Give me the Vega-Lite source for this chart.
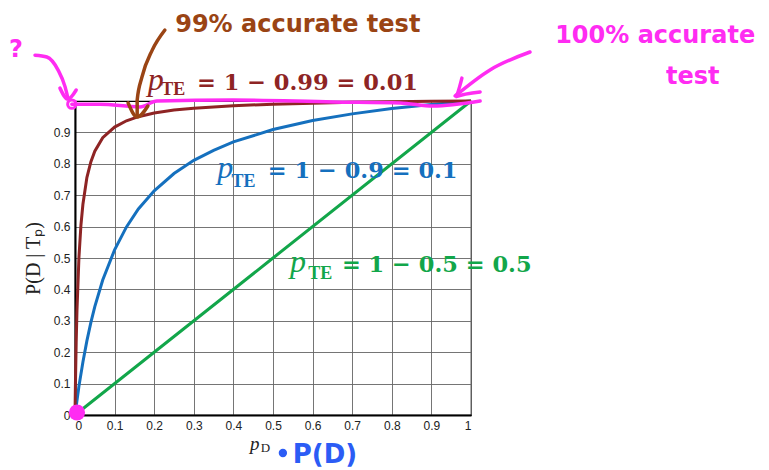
{
  "$schema": "https://vega.github.io/schema/vega-lite/v6.json",
  "autosize": "none",
  "width": 396,
  "height": 314,
  "padding": {"left": 75, "top": 101, "right": 298, "bottom": 55},
  "background": "white",
  "config": {
    "view": {"stroke": "black", "strokeWidth": 1.2},
    "axis": {
      "labelFont": "Liberation Sans",
      "labelFontSize": 12,
      "labelColor": "#222",
      "gridColor": "#666",
      "gridWidth": 1,
      "gridOpacity": 0.9,
      "domainColor": "black",
      "domainWidth": 2,
      "ticks": false,
      "labelPadding": 5
    }
  },
  "datasets": {
    "curves": [
      {"s": "green", "x": 0, "y": 0},
      {"s": "green", "x": 0.5, "y": 0.5},
      {"s": "green", "x": 1, "y": 1},
      {"s": "blue", "x": 0, "y": 0},
      {"s": "blue", "x": 0.01, "y": 0.092},
      {"s": "blue", "x": 0.02, "y": 0.169},
      {"s": "blue", "x": 0.03, "y": 0.236},
      {"s": "blue", "x": 0.04, "y": 0.294},
      {"s": "blue", "x": 0.05, "y": 0.345},
      {"s": "blue", "x": 0.07, "y": 0.43},
      {"s": "blue", "x": 0.1, "y": 0.526},
      {"s": "blue", "x": 0.13, "y": 0.599},
      {"s": "blue", "x": 0.16, "y": 0.656},
      {"s": "blue", "x": 0.2, "y": 0.714},
      {"s": "blue", "x": 0.25, "y": 0.769},
      {"s": "blue", "x": 0.3, "y": 0.811},
      {"s": "blue", "x": 0.35, "y": 0.843},
      {"s": "blue", "x": 0.4, "y": 0.87},
      {"s": "blue", "x": 0.5, "y": 0.909},
      {"s": "blue", "x": 0.6, "y": 0.938},
      {"s": "blue", "x": 0.7, "y": 0.959},
      {"s": "blue", "x": 0.8, "y": 0.976},
      {"s": "blue", "x": 0.9, "y": 0.989},
      {"s": "blue", "x": 1, "y": 1},
      {"s": "red", "x": 0, "y": 0},
      {"s": "red", "x": 0.001, "y": 0.091},
      {"s": "red", "x": 0.003, "y": 0.232},
      {"s": "red", "x": 0.005, "y": 0.334},
      {"s": "red", "x": 0.01, "y": 0.503},
      {"s": "red", "x": 0.015, "y": 0.605},
      {"s": "red", "x": 0.02, "y": 0.671},
      {"s": "red", "x": 0.03, "y": 0.756},
      {"s": "red", "x": 0.04, "y": 0.806},
      {"s": "red", "x": 0.05, "y": 0.84},
      {"s": "red", "x": 0.07, "y": 0.883},
      {"s": "red", "x": 0.1, "y": 0.917},
      {"s": "red", "x": 0.13, "y": 0.937},
      {"s": "red", "x": 0.16, "y": 0.95},
      {"s": "red", "x": 0.2, "y": 0.962},
      {"s": "red", "x": 0.25, "y": 0.971},
      {"s": "red", "x": 0.3, "y": 0.977},
      {"s": "red", "x": 0.4, "y": 0.985},
      {"s": "red", "x": 0.5, "y": 0.99},
      {"s": "red", "x": 0.6, "y": 0.993},
      {"s": "red", "x": 0.7, "y": 0.996},
      {"s": "red", "x": 0.8, "y": 0.998},
      {"s": "red", "x": 0.9, "y": 0.999},
      {"s": "red", "x": 1, "y": 1}
    ],
    "pLab": [
      {"s": "red", "x": 0.184, "y": 1.035, "t": "p"},
      {"s": "blue", "x": 0.359, "y": 0.755, "t": "p"},
      {"s": "green", "x": 0.543, "y": 0.455, "t": "p"}
    ],
    "teLab": [
      {"s": "red", "x": 0.218, "y": 1.019, "t": "TE"},
      {"s": "blue", "x": 0.395, "y": 0.726, "t": "TE"},
      {"s": "green", "x": 0.589, "y": 0.433, "t": "TE"}
    ],
    "eqLab": [
      {"s": "red", "x": 0.308, "y": 1.035, "t": "= 1 − 0.99 = 0.01"},
      {"s": "blue", "x": 0.487, "y": 0.755, "t": "= 1 − 0.9 = 0.1"},
      {"s": "green", "x": 0.674, "y": 0.455, "t": "= 1 − 0.5 = 0.5"}
    ],
    "magLines": [
      {"g": "h", "o": 1, "x": -0.008, "y": 0.99},
      {"g": "h", "o": 2, "x": 0.063, "y": 0.99},
      {"g": "h", "o": 3, "x": 0.164, "y": 0.981},
      {"g": "h", "o": 4, "x": 0.207, "y": 1.0},
      {"g": "h", "o": 5, "x": 0.399, "y": 1.003},
      {"g": "h", "o": 6, "x": 0.652, "y": 0.997},
      {"g": "h", "o": 7, "x": 0.821, "y": 0.994},
      {"g": "h", "o": 8, "x": 0.904, "y": 0.984},
      {"g": "h", "o": 9, "x": 1.023, "y": 1.0},
      {"g": "q", "o": 1, "x": -0.101, "y": 1.146},
      {"g": "q", "o": 2, "x": -0.071, "y": 1.14},
      {"g": "q", "o": 3, "x": -0.043, "y": 1.099},
      {"g": "q", "o": 4, "x": -0.025, "y": 1.045},
      {"g": "q", "o": 5, "x": -0.018, "y": 1.01},
      {"g": "qb", "o": 1, "x": -0.038, "y": 1.041},
      {"g": "qb", "o": 2, "x": -0.018, "y": 1.006},
      {"g": "qb", "o": 3, "x": 0.003, "y": 1.035},
      {"g": "a", "o": 1, "x": 1.149, "y": 1.156},
      {"g": "a", "o": 2, "x": 1.048, "y": 1.099},
      {"g": "a", "o": 3, "x": 0.96, "y": 1.016},
      {"g": "ab", "o": 1, "x": 0.977, "y": 1.073},
      {"g": "ab", "o": 2, "x": 0.96, "y": 1.013},
      {"g": "ab", "o": 3, "x": 1.023, "y": 1.029}
    ],
    "brownLines": [
      {"g": "s", "o": 1, "x": 0.227, "y": 1.226},
      {"g": "s", "o": 2, "x": 0.195, "y": 1.162},
      {"g": "s", "o": 3, "x": 0.169, "y": 1.076},
      {"g": "s", "o": 4, "x": 0.157, "y": 1.003},
      {"g": "s", "o": 5, "x": 0.157, "y": 0.952},
      {"g": "b", "o": 1, "x": 0.134, "y": 0.994},
      {"g": "b", "o": 2, "x": 0.157, "y": 0.949},
      {"g": "b", "o": 3, "x": 0.184, "y": 0.984}
    ]
  },
  "encoding": {
    "x": {
      "field": "x", "type": "quantitative",
      "scale": {"domain": [0, 1], "nice": false},
      "axis": {"values": [0, 0.1, 0.2, 0.3, 0.4, 0.5, 0.6, 0.7, 0.8, 0.9, 1], "format": "~g", "title": null, "grid": true}
    },
    "y": {
      "field": "y", "type": "quantitative",
      "scale": {"domain": [0, 1], "nice": false},
      "axis": {"values": [0, 0.1, 0.2, 0.3, 0.4, 0.5, 0.6, 0.7, 0.8, 0.9], "format": "~g", "title": "P(D | Tₚ)", "titleFont": "Liberation Serif", "titleFontSize": 20, "titleFontWeight": "normal", "titleColor": "#222", "titlePadding": 10, "grid": true}
    }
  },
  "layer": [
    {
      "data": {"name": "curves"},
      "mark": {"type": "line", "strokeWidth": 3},
      "encoding": {
        "color": {"field": "s", "type": "nominal", "scale": {"domain": ["green", "blue", "red"], "range": ["#12a64a", "#1570be", "#8e2424"]}, "legend": null}
      }
    },
    {
      "data": {"name": "magLines"},
      "mark": {"type": "line", "strokeWidth": 3.5, "color": "#ff2cf2", "strokeCap": "round", "interpolate": "monotone"},
      "encoding": {
        "detail": {"field": "g"},
        "order": {"field": "o"}
      }
    },
    {
      "data": {"name": "brownLines"},
      "mark": {"type": "line", "strokeWidth": 3.5, "color": "#9a4414", "strokeCap": "round", "interpolate": "monotone"},
      "encoding": {
        "detail": {"field": "g"},
        "order": {"field": "o"}
      }
    },
    {
      "data": {"values": [{"x": -0.008, "y": 0.99}]},
      "mark": {"type": "point", "shape": "circle", "size": 70, "filled": false, "strokeWidth": 3, "color": "#ff2cf2", "opacity": 1},
      "encoding": {}
    },
    {
      "data": {"values": [{"x": 0.005, "y": 0.008}]},
      "mark": {"type": "point", "shape": "circle", "size": 260, "filled": true, "color": "#ff2cf2", "opacity": 1},
      "encoding": {}
    },
    {
      "data": {"name": "pLab"},
      "mark": {"type": "text", "font": "Liberation Serif", "fontStyle": "italic", "fontSize": 32, "align": "left", "baseline": "alphabetic"},
      "encoding": {
        "text": {"field": "t"},
        "color": {"field": "s", "type": "nominal", "legend": null}
      }
    },
    {
      "data": {"name": "teLab"},
      "mark": {"type": "text", "font": "Liberation Serif", "fontWeight": "bold", "fontSize": 18, "align": "left", "baseline": "alphabetic"},
      "encoding": {
        "text": {"field": "t"},
        "color": {"field": "s", "type": "nominal", "legend": null}
      }
    },
    {
      "data": {"name": "eqLab"},
      "mark": {"type": "text", "font": "DejaVu Serif", "fontWeight": "bold", "fontSize": 22.5, "align": "left", "baseline": "alphabetic"},
      "encoding": {
        "text": {"field": "t"},
        "color": {"field": "s", "type": "nominal", "legend": null}
      }
    },
    {
      "data": {"values": [{"x": 0.442, "y": -0.113, "t": "p"}]},
      "mark": {"type": "text", "font": "Liberation Serif", "fontStyle": "italic", "fontSize": 19, "align": "left", "baseline": "alphabetic", "color": "#222"},
      "encoding": {"text": {"field": "t"}}
    },
    {
      "data": {"values": [{"x": 0.469, "y": -0.119, "t": "D"}]},
      "mark": {"type": "text", "font": "Liberation Serif", "fontSize": 13, "align": "left", "baseline": "alphabetic", "color": "#222"},
      "encoding": {"text": {"field": "t"}}
    },
    {
      "data": {"values": [
        {"x": 0.253, "y": 1.22, "t": "99% accurate test"}
      ]},
      "mark": {"type": "text", "font": "DejaVu Sans", "fontWeight": "bold", "fontSize": 24, "align": "left", "baseline": "alphabetic", "color": "#9a4414"},
      "encoding": {"text": {"field": "t"}}
    },
    {
      "data": {"values": [
        {"x": 1.465, "y": 1.185, "t": "100% accurate"},
        {"x": 1.56, "y": 1.055, "t": "test"},
        {"x": -0.149, "y": 1.14, "t": "?"}
      ]},
      "mark": {"type": "text", "font": "DejaVu Sans", "fontWeight": "bold", "fontSize": 24, "align": "center", "baseline": "alphabetic", "color": "#ff2cf2"},
      "encoding": {"text": {"field": "t"}}
    },
    {
      "data": {"values": [
        {"x": 0.55, "y": -0.153, "t": "P(D)"}
      ]},
      "mark": {"type": "text", "font": "DejaVu Sans", "fontWeight": "bold", "fontSize": 26, "align": "left", "baseline": "alphabetic", "color": "#2b5cf5"},
      "encoding": {"text": {"field": "t"}}
    },
    {
      "data": {"values": [{"x": 0.525, "y": -0.121}]},
      "mark": {"type": "point", "shape": "circle", "size": 70, "filled": true, "color": "#2b5cf5", "opacity": 1},
      "encoding": {}
    }
  ]
}
